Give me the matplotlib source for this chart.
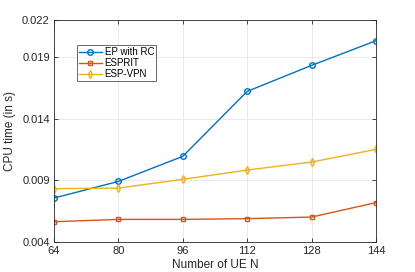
import matplotlib
matplotlib.use("Agg")
import matplotlib.pyplot as plt

plt.rcParams['font.family'] = ['Liberation Sans', 'DejaVu Sans']

x_vals = [64, 80, 96, 112, 128, 144]
ep_rc = [0.00757, 0.00892, 0.01095, 0.01622, 0.01833, 0.02033]
esprit = [0.00565, 0.00584, 0.00584, 0.0059, 0.00603, 0.0072]
esp_vpn = [0.00833, 0.00838, 0.00909, 0.00984, 0.01049, 0.01152]
y_ticks = [0.004, 0.009, 0.014, 0.019, 0.022]
y_tick_labels = ['0.004', '0.009', '0.014', '0.019', '0.022']

fig = plt.figure(figsize=(4.15, 2.72), dpi=100)
ax = fig.add_axes([0.130, 0.110, 0.776, 0.816])

ax.plot(x_vals, ep_rc, color='#0072BD', marker='o', markersize=4, markerfacecolor='none',
        markeredgewidth=1.0, linewidth=1.0, label='EP with RC')
ax.plot(x_vals, esprit, color='#D95319', marker='s', markersize=3.5, markerfacecolor='none',
        markeredgewidth=1.0, linewidth=1.0, label='ESPRIT')
ax.plot(x_vals, esp_vpn, color='#EDB120', marker='d', markersize=4, markerfacecolor='none',
        markeredgewidth=1.0, linewidth=1.0, label='ESP-VPN')

ax.set_xlim(64, 144)
ax.set_ylim(0.004, 0.022)
ax.set_xticks(x_vals)
ax.set_xticklabels([str(v) for v in x_vals])
ax.set_yticks(y_ticks)
ax.set_yticklabels(y_tick_labels)
ax.grid(True, color='#e6e6e6', linewidth=0.6)
ax.set_axisbelow(True)
ax.tick_params(direction='in', top=True, right=True, labelsize=8, length=3, width=0.6,
               colors='#262626', pad=3)
for s in ax.spines.values():
    s.set_color('#262626')
    s.set_linewidth(0.6)
ax.set_xlabel('Number of UE N', fontsize=8.5, color='#262626', labelpad=2)
ax.set_ylabel('CPU time (in s)', fontsize=8.5, color='#262626', labelpad=4)

leg = ax.legend(loc='upper left', bbox_to_anchor=(0.071, 0.89), fontsize=7, frameon=True,
                fancybox=False, edgecolor='#262626', handlelength=2.3, borderpad=0.25,
                labelspacing=0.1, handletextpad=0.3, borderaxespad=0)
leg.get_frame().set_linewidth(0.6)

fig.savefig('out.png', dpi=100)
